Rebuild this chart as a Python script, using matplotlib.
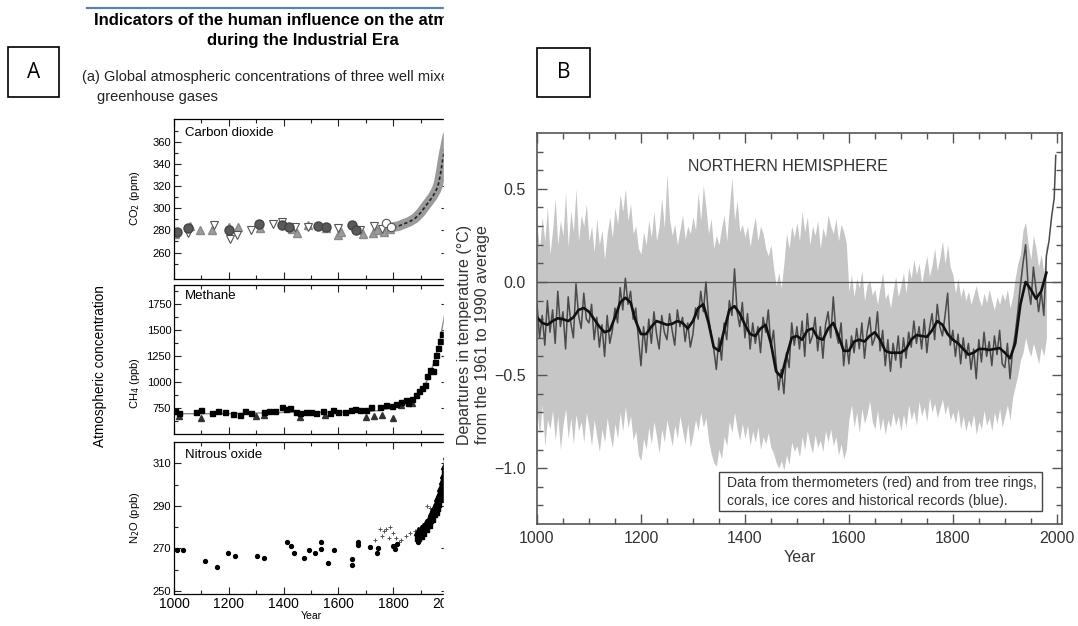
import numpy as np
import matplotlib.pyplot as plt
from matplotlib.patches import Rectangle
from matplotlib.lines import Line2D

plt.rcParams['font.family'] = ['Liberation Sans', 'DejaVu Sans']

# ---------------- panel A data ----------------
co2_circ_years = [1010, 1050, 1200, 1310, 1395, 1420, 1525, 1555, 1650, 1665]
co2_circ_vals = [279, 282, 280, 286, 285, 283, 284, 283, 285, 280]
co2_up_years = [1005, 1060, 1095, 1140, 1200, 1235, 1315, 1430, 1450, 1490,
                1555, 1600, 1610, 1690, 1725, 1740, 1765, 1790]
co2_up_vals = [277, 284, 280, 280, 283, 283, 282, 281, 278, 285,
               282, 276, 279, 277, 278, 280, 279, 281]
co2_dn_years = [1050, 1145, 1205, 1230, 1280, 1360, 1395, 1440, 1490, 1600,
                1680, 1730, 1760]
co2_dn_vals = [278, 285, 272, 276, 280, 286, 288, 283, 283, 282, 280, 284, 281]
co2_open_years = [1772, 1792]
co2_open_vals = [287, 283]
co2_mod_years = [1780, 1800, 1820, 1840, 1860, 1880, 1900, 1915, 1930, 1945,
                 1958, 1965, 1970, 1975, 1980, 1985, 1990, 1998]
co2_mod_vals = [281, 283, 284, 286, 288, 291, 296, 301, 306, 311,
                317, 322, 328, 335, 343, 350, 356, 366]

ch4_sq_years = [1005, 1020, 1080, 1100, 1140, 1160, 1185, 1215, 1240, 1260,
                1280, 1330, 1345, 1370, 1395, 1410, 1425, 1445, 1460, 1480,
                1500, 1520, 1545, 1570, 1580, 1600, 1625, 1645, 1660, 1680,
                1700, 1720, 1750, 1775, 1795, 1810, 1830, 1845, 1855, 1870,
                1885, 1895, 1905, 1915, 1925, 1935, 1945, 1952, 1958, 1965,
                1972, 1978]
ch4_sq_vals = [730, 705, 720, 740, 705, 725, 720, 700, 690, 725,
               705, 720, 725, 730, 760, 745, 750, 720, 705, 720,
               715, 710, 730, 710, 735, 720, 715, 740, 745, 735,
               740, 765, 760, 780, 770, 790, 815, 830, 800, 840,
               880, 920, 950, 980, 1060, 1120, 1110, 1200, 1260, 1330,
               1400, 1460]
ch4_tri_years = [1020, 1100, 1300, 1330, 1460, 1550, 1700, 1730, 1760, 1800,
                 1830, 1870]
ch4_tri_vals = [680, 660, 680, 690, 670, 690, 670, 680, 690, 660, 780, 800]
ch4_fit_years = [1000, 1200, 1400, 1600, 1700, 1750, 1800, 1850, 1900, 1930,
                 1950, 1970, 1990]
ch4_fit_vals = [700, 700, 712, 715, 720, 730, 760, 800, 900, 1050,
                1200, 1400, 1680]

n2o_dot_years = [1011, 1033, 1113, 1157, 1197, 1223, 1303, 1329, 1412, 1427,
                 1438, 1475, 1493, 1515, 1537, 1537, 1563, 1584, 1649, 1649,
                 1672, 1672, 1716, 1740, 1746, 1800, 1808, 1815, 1890]
n2o_dot_vals = [269, 269, 264, 261, 268, 266.5, 266.5, 265.5, 273, 271,
                268, 265.5, 269, 268, 273, 269.5, 263, 269, 265, 262,
                273, 271.5, 270.5, 268, 270, 271, 269.5, 272, 273]
n2o_plus_years = [1735, 1750, 1760, 1765, 1775, 1785, 1790, 1800, 1810, 1820,
                  1830, 1845, 1860, 1880, 1900, 1925, 1935]
n2o_plus_vals = [274, 279, 276, 278, 279, 275, 280, 277, 275, 273,
                 274, 276, 277, 278, 280, 290, 289]
n2o_mod_years = [1890, 1900, 1910, 1920, 1930, 1940, 1950, 1955, 1960, 1965,
                 1970, 1975, 1980, 1985, 1990, 1998]
n2o_mod_vals = [278, 279, 280, 282, 284, 287, 289, 290, 292, 294,
                296, 299, 302, 305, 309, 314]

# ---------------- panel B data ----------------
nh_years = list(range(1000, 2000, 5)) + [1998]
nh_annual = [
    -0.12, -0.30, -0.18, -0.34, -0.10, -0.27, -0.15, -0.33, -0.05, -0.24,
    -0.16, -0.36, -0.08, -0.22, -0.30, -0.01, -0.18, -0.25, -0.06, -0.20,
    -0.22, -0.12, -0.31, -0.19, -0.35, -0.23, -0.40, -0.18, -0.33, -0.26,
    -0.14, -0.22, -0.03, -0.15, 0.02, -0.12, -0.05, -0.20, -0.14, -0.30,
    -0.45, -0.24, -0.38, -0.20, -0.33, -0.16, -0.28, -0.36, -0.18, -0.27,
    -0.31, -0.17, -0.26, -0.34, -0.15, -0.24, -0.19, -0.32, -0.22, -0.35,
    -0.28, -0.14, -0.20, -0.05, -0.16, 0.00, -0.19, -0.28, -0.36, -0.47,
    -0.30, -0.42, -0.22, -0.31, -0.10, -0.18, 0.07, -0.16, -0.24, -0.11,
    -0.30, -0.17, -0.36, -0.22, -0.33, -0.24, -0.38, -0.19, -0.27, -0.15,
    -0.35, -0.26, -0.44, -0.58, -0.47, -0.60, -0.38, -0.46, -0.22, -0.34,
    -0.24, -0.36, -0.21, -0.40, -0.17, -0.33, -0.29, -0.19, -0.37, -0.24,
    -0.41, -0.23, -0.16, -0.30, -0.08, -0.27, -0.33, -0.22, -0.45, -0.31,
    -0.44, -0.29, -0.38, -0.25, -0.36, -0.22, -0.41, -0.27, -0.19, -0.34,
    -0.30, -0.16, -0.37, -0.26, -0.45, -0.31, -0.48, -0.33, -0.42, -0.29,
    -0.46, -0.30, -0.41, -0.27, -0.35, -0.21, -0.33, -0.24, -0.36, -0.20,
    -0.38, -0.25, -0.17, -0.31, -0.12, -0.24, -0.29, -0.18, -0.06, -0.34,
    -0.26, -0.40, -0.28, -0.44, -0.30, -0.41, -0.33, -0.47, -0.36, -0.52,
    -0.31, -0.43, -0.27, -0.40, -0.32, -0.45, -0.29, -0.39, -0.26, -0.44,
    -0.46, -0.33, -0.52, -0.37, -0.28, -0.16, -0.02, 0.10, 0.20, -0.03,
    -0.12, 0.08, -0.04, -0.16, -0.05, -0.18, 0.14, 0.22, 0.35, 0.45,
    0.68]

band_years = list(range(1000, 1985, 5))
band_upper = [
    0.30, 0.18, 0.35, 0.22, 0.40, 0.15, 0.28, 0.45, 0.20, 0.33,
    0.25, 0.48, 0.19, 0.38, 0.27, 0.50, 0.22, 0.36, 0.30, 0.42,
    0.22, 0.30, 0.16, 0.34, 0.20, 0.28, 0.12, 0.26, 0.35, 0.24,
    0.40, 0.31, 0.47, 0.38, 0.50, 0.33, 0.42, 0.26, 0.30, 0.18,
    0.15, 0.27, 0.20, 0.33, 0.24, 0.38, 0.22, 0.30, 0.45, 0.29,
    0.58, 0.34, 0.25, 0.31, 0.20, 0.28, 0.36, 0.23, 0.30, 0.26,
    0.35, 0.28, 0.48, 0.33, 0.52, 0.40, 0.26, 0.34, 0.18, 0.25,
    0.20, 0.29, 0.36, 0.22, 0.40, 0.56, 0.33, 0.44, 0.27, 0.31,
    0.24, 0.30, 0.19, 0.28, 0.35, 0.22, 0.30, 0.26, 0.18, 0.14,
    0.20, 0.08, -0.02, 0.05, -0.03, 0.10, 0.26, 0.18, 0.30, 0.24,
    0.32, 0.22, 0.38, 0.27, 0.35, 0.20, 0.30, 0.25, 0.33, 0.18,
    0.29, 0.24, 0.36, 0.30, 0.26, 0.34, 0.22, 0.31, 0.27, 0.21,
    -0.05, 0.04, -0.08, 0.02, -0.03, 0.06, -0.10, -0.02, 0.01, -0.07,
    -0.04, -0.12, -0.03, 0.05, -0.09, -0.06, -0.14, -0.05, 0.03, -0.08,
    -0.02, 0.05, -0.06, 0.08, 0.02, 0.12, 0.04, 0.10, -0.01, 0.07,
    0.14, 0.03, 0.09, 0.18, 0.06, 0.13, 0.22, 0.10, 0.20, 0.08,
    0.04, -0.06, 0.02, -0.08, -0.03, -0.10, -0.05, -0.12, -0.07, -0.02,
    -0.09, -0.13, -0.06, -0.11, -0.04, -0.10, -0.15, -0.08, -0.12, -0.06,
    -0.10, -0.04, -0.14, -0.08, 0.02, 0.10, 0.15, 0.28, 0.32, 0.20,
    0.12, 0.25, 0.18, 0.08, 0.15, 0.05, 0.22]
band_lower = [
    -0.70, -0.82, -0.66, -0.88, -0.74, -0.79, -0.69, -0.85, -0.72, -0.90,
    -0.77, -0.68, -0.84, -0.73, -0.87, -0.71, -0.80, -0.75, -0.86, -0.70,
    -0.78, -0.88, -0.74, -0.83, -0.91, -0.79, -0.86, -0.73, -0.82, -0.89,
    -0.76, -0.84, -0.70, -0.80, -0.67, -0.78, -0.72, -0.85, -0.80, -0.93,
    -0.96, -0.84, -0.90, -0.78, -0.87, -0.75, -0.83, -0.92, -0.79, -0.86,
    -0.74, -0.81, -0.88, -0.77, -0.84, -0.72, -0.80, -0.87, -0.76, -0.89,
    -0.82, -0.74, -0.80, -0.70, -0.78, -0.73, -0.85, -0.92, -0.97, -0.99,
    -0.90, -0.95, -0.83, -0.88, -0.75, -0.81, -0.70, -0.79, -0.85, -0.76,
    -0.84, -0.77, -0.88, -0.80, -0.86, -0.78, -0.90, -0.83, -0.87, -0.81,
    -0.89, -0.92, -0.97, -1.00, -0.96, -1.01, -0.93, -0.98, -0.86, -0.91,
    -0.88, -0.94, -0.83, -0.90, -0.80, -0.87, -0.92, -0.82, -0.89, -0.85,
    -0.91, -0.80, -0.86, -0.79, -0.88, -0.83, -0.93, -0.87, -0.95, -0.90,
    -0.74, -0.66, -0.78, -0.70, -0.81, -0.68, -0.76, -0.71, -0.64, -0.75,
    -0.79, -0.69, -0.80, -0.73, -0.82, -0.74, -0.78, -0.70, -0.77, -0.72,
    -0.80, -0.71, -0.78, -0.66, -0.74, -0.69, -0.77, -0.64, -0.72, -0.67,
    -0.75, -0.62, -0.70, -0.65, -0.73, -0.68, -0.63, -0.71, -0.66, -0.74,
    -0.70, -0.76, -0.68, -0.79, -0.72, -0.80, -0.74, -0.78, -0.71, -0.82,
    -0.75, -0.79, -0.69, -0.77, -0.73, -0.80, -0.70, -0.76, -0.68, -0.78,
    -0.72, -0.66, -0.74, -0.62, -0.56, -0.50, -0.42, -0.38, -0.30, -0.36,
    -0.40, -0.33, -0.38, -0.44, -0.35, -0.40, -0.30]

smooth_years = list(range(1000, 1990, 10))
smooth_vals = [
    -0.19, -0.22, -0.23, -0.21, -0.195, -0.20, -0.21, -0.19, -0.15, -0.14,
    -0.16, -0.20, -0.24, -0.27, -0.26, -0.19, -0.11, -0.085, -0.11, -0.21,
    -0.28, -0.28, -0.24, -0.21, -0.22, -0.23, -0.225, -0.21, -0.22, -0.25,
    -0.21, -0.14, -0.12, -0.22, -0.35, -0.37, -0.26, -0.15, -0.13, -0.17,
    -0.23, -0.28, -0.29, -0.25, -0.23, -0.33, -0.48, -0.51, -0.40, -0.30,
    -0.29, -0.31, -0.26, -0.25, -0.30, -0.31, -0.25, -0.22, -0.29, -0.37,
    -0.37, -0.32, -0.31, -0.32, -0.29, -0.27, -0.31, -0.37, -0.38, -0.38,
    -0.38, -0.36, -0.31, -0.285, -0.29, -0.295, -0.26, -0.21, -0.23, -0.28,
    -0.31, -0.33, -0.36, -0.39, -0.38, -0.36, -0.36, -0.365, -0.36, -0.355,
    -0.38, -0.41, -0.33, -0.12, 0.00, -0.04, -0.09, -0.05, 0.05]

W, H = 1078, 626
fig = plt.figure(figsize=(W / 100, H / 100), dpi=100)


def px_axes(left, top, right, bottom):
    return fig.add_axes([left / W, 1 - bottom / H, (right - left) / W, (bottom - top) / H])


# ---------------- panel A ----------------
ax_co2 = px_axes(174, 119, 448, 279)
ax_ch4 = px_axes(174, 285, 448, 434)
ax_n2o = px_axes(174, 442, 448, 594)

for ax in (ax_co2, ax_ch4, ax_n2o):
    ax.set_xlim(1000, 2000)
    ax.set_xticks(range(1000, 2001, 200))
    ax.set_xticks(range(1100, 2000, 200), minor=True)
    ax.tick_params(which='both', direction='in', top=True, right=True,
                   labelsize=8, width=0.8, pad=2, color='#222222')
    ax.tick_params(which='major', length=5)
    ax.tick_params(which='minor', length=3)
    for sp in ax.spines.values():
        sp.set_linewidth(0.9)
    if ax is not ax_n2o:
        ax.set_xticklabels([])

ax_co2.plot(co2_mod_years, co2_mod_vals, color='#9a9a9a', lw=7, solid_capstyle='round')
ax_co2.plot(co2_mod_years, co2_mod_vals, color='#222222', lw=1.2, ls=(0, (2, 1.5)))
ax_co2.plot(co2_up_years, co2_up_vals, '^', ms=6, color='#9c9c9c', mec='#8a8a8a')
ax_co2.plot(co2_dn_years, co2_dn_vals, 'v', ms=6, mfc='white', mec='#555555', mew=0.8)
ax_co2.plot(co2_circ_years, co2_circ_vals, 'o', ms=6.5, color='#5a5a5a', mec='#444444')
ax_co2.plot(co2_open_years, co2_open_vals, 'o', ms=6, mfc='white', mec='#555555', mew=0.8)
ax_co2.set_ylim(236, 381)
ax_co2.set_yticks(range(260, 361, 20))
ax_co2.set_yticks(range(250, 380, 10), minor=True)
ax_co2.text(1040, 374, 'Carbon dioxide', fontsize=9.5, va='top')

ax_ch4.plot(ch4_fit_years, ch4_fit_vals, color='#8a8a8a', lw=1.0)
ax_ch4.plot(ch4_tri_years, ch4_tri_vals, '^', ms=3.8, color='#333333')
ax_ch4.plot(ch4_sq_years, ch4_sq_vals, 's', ms=3.6, color='black')
ax_ch4.set_ylim(505, 1935)
ax_ch4.set_yticks(range(750, 1751, 250))
ax_ch4.set_yticks(range(625, 1900, 125), minor=True)
ax_ch4.text(1040, 1885, 'Methane', fontsize=9.5, va='top')

ax_n2o.plot(n2o_plus_years, n2o_plus_vals, '+', ms=3.5, color='#555555', mew=0.7)
ax_n2o.plot(n2o_dot_years, n2o_dot_vals, 'o', ms=2.8, color='black')
ax_n2o.plot(n2o_mod_years, n2o_mod_vals, '^', ms=6, color='black')
ax_n2o.plot(n2o_mod_years, [v - 3 for v in n2o_mod_vals], 's', ms=4, color='black')
ax_n2o.set_ylim(248.5, 320)
ax_n2o.set_yticks(range(250, 311, 20))
ax_n2o.set_yticks(range(260, 320, 20), minor=True)
ax_n2o.text(1040, 316.5, 'Nitrous oxide', fontsize=9.5, va='top')
ax_n2o.tick_params(axis='x', labelsize=10, pad=2.5)
ax_n2o.set_xlabel('Year', fontsize=7.5, labelpad=0)

fig.text(135 / W, 1 - 198 / H, 'CO$_2$ (ppm)', rotation=90, ha='center', va='center', fontsize=8)
fig.text(135 / W, 1 - 383 / H, 'CH$_4$ (ppb)', rotation=90, ha='center', va='center', fontsize=8)
fig.text(135 / W, 1 - 518 / H, 'N$_2$O (ppb)', rotation=90, ha='center', va='center', fontsize=8)
fig.text(100 / W, 1 - 366 / H, 'Atmospheric concentration', rotation=90,
         ha='center', va='center', fontsize=9.8)

# headings of panel A
fig.add_artist(Line2D([87 / W, 443 / W], [1 - 7.5 / H, 1 - 7.5 / H], color='#5d82a8', lw=1.6))
fig.text(94 / W, 1 - 20 / H, 'Indicators of the human influence on the atmosphere',
         fontsize=12, fontweight='bold', va='center')
fig.text(303 / W, 1 - 41 / H, 'during the Industrial Era',
         fontsize=12, fontweight='bold', va='center', ha='center')
fig.text(82 / W, 1 - 77 / H, '(a) Global atmospheric concentrations of three well mixed',
         fontsize=10.5, va='center', color='#222222')
fig.text(97 / W, 1 - 97 / H, 'greenhouse gases', fontsize=10.5, va='center', color='#222222')

# panel A is cut off on its right side
fig.add_artist(Rectangle((443.5 / W, 1 - 110 / H), 90 / W, 110 / H,
                         transform=fig.transFigure, color='white', zorder=5))
fig.add_artist(Rectangle((443.5 / W, 1 - 597 / H), 7 / W, 487 / H,
                         transform=fig.transFigure, color='white', zorder=5))
fig.add_artist(Rectangle((443.5 / W, 0), 25 / W, 29 / H,
                         transform=fig.transFigure, color='white', zorder=5))

# ---------------- panel B ----------------
ax_b = px_axes(537, 133, 1062, 524)
ax_b.fill_between(band_years, band_lower, band_upper, color='#c6c6c6', lw=0)
ax_b.axhline(0, color='#555555', lw=0.9)
ax_b.plot(nh_years, nh_annual, color='#4a4a4a', lw=1.1)
ax_b.plot(smooth_years, smooth_vals, color='#111111', lw=1.9)
ax_b.set_xlim(1000, 2010)
ax_b.set_ylim(-1.3, 0.8)
ax_b.set_xticks(range(1000, 2001, 200))
ax_b.set_xticks(range(1050, 2001, 50), minor=True)
ax_b.set_yticks([-1.0, -0.5, 0.0, 0.5])
ax_b.set_yticks(np.arange(-1.2, 0.75, 0.1), minor=True)
ax_b.set_yticklabels(['\u22121.0', '\u22120.5', '0.0', '0.5'])
ax_b.tick_params(which='both', direction='in', top=True, right=True,
                 labelsize=11.5, labelcolor='#333333', color='#555555', width=1)
ax_b.tick_params(which='major', length=7)
ax_b.tick_params(which='minor', length=4)
ax_b.tick_params(axis='y', pad=8)
ax_b.tick_params(axis='x', pad=5)
for sp in ax_b.spines.values():
    sp.set_color('#555555')
    sp.set_linewidth(1.2)

ax_b.text(0.478, 0.9156, 'NORTHERN HEMISPHERE', transform=ax_b.transAxes,
          ha='center', va='center', fontsize=11.5, color='#333333')
ax_b.add_patch(Rectangle((0.3467, 0.033), 0.6153, 0.100, transform=ax_b.transAxes,
                         fc='white', ec='#444444', lw=1.0, zorder=4))
ax_b.text(0.362, 0.0818,
          'Data from thermometers (red) and from tree rings,\n'
          'corals, ice cores and historical records (blue).',
          transform=ax_b.transAxes, ha='left', va='center', fontsize=10,
          linespacing=1.35, color='#333333', zorder=5)
fig.text(800 / W, 1 - 557 / H, 'Year', ha='center', va='center', fontsize=11.5, color='#333333')
fig.text(473 / W, 1 - 335 / H,
         'Departures in temperature (\u00b0C)\nfrom the 1961 to 1990 average',
         rotation=90, ha='center', va='center', fontsize=11.5, linespacing=1.25,
         multialignment='center', color='#333333')

# panel letters
for (l, t, r, b), letter in (((8, 47, 59, 97), 'A'), ((537, 48, 590, 97), 'B')):
    fig.add_artist(Rectangle((l / W, 1 - b / H), (r - l) / W, (b - t) / H,
                             transform=fig.transFigure, fc='white', ec='black', lw=1.2))
    fig.text((l + r) / 2 / W, 1 - (t + b) / 2 / H, letter, ha='center', va='center',
             fontsize=15, family=['Open Sans', 'DejaVu Sans'])

fig.savefig('out.png', dpi=100)
